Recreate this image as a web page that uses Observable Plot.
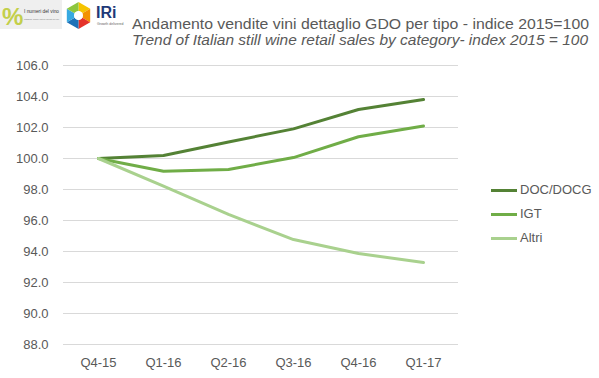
<!DOCTYPE html>
<html>
<head>
<meta charset="utf-8">
<script src="https://cdn.jsdelivr.net/npm/d3@7"></script>
<script src="https://cdn.jsdelivr.net/npm/@observablehq/plot@0.6"></script>
<style>
  body { margin: 0; background: #fff; }
  #wrap { position: relative; width: 599px; height: 378px; overflow: hidden; font-family: "Liberation Sans", Arial, sans-serif; }
  #chart { position: absolute; left: 0; top: 0; }
  .overlay { position: absolute; left: 0; top: 0; }
  .leg { position: absolute; left: 491px; width: 26px; height: 3px; }
  .legt { position: absolute; left: 520px; font-size: 13px; color: #595959; line-height: 14px; }
</style>
</head>
<body>
<div id="wrap">
  <div id="chart"></div>
  <svg class="overlay" width="599" height="56" id="header"></svg>
  <div id="legend"></div>
</div>
<script>
const quarters = ["Q4-15", "Q1-16", "Q2-16", "Q3-16", "Q4-16", "Q1-17"];
const docDocg = [100.0, 100.19, 101.07, 101.91, 103.16, 103.8];
const igt = [100.0, 99.18, 99.29, 100.06, 101.4, 102.1];
const altri = [100.0, 98.21, 96.39, 94.77, 93.87, 93.29];
const seriesNames = ["DOC/DOCG", "IGT", "Altri"];
const seriesColors = ["#548235", "#70AD47", "#A9D18E"];
const yTicks = [88, 90, 92, 94, 96, 98, 100, 102, 104, 106];
const title = "Andamento vendite vini dettaglio GDO per tipo - indice 2015=100";
const subtitle = "Trend of Italian still wine retail sales by category- index 2015 = 100";

const values = [docDocg, igt, altri];
const data = [];
seriesNames.forEach((s, i) => quarters.forEach((q, j) => data.push({s, q, v: values[i][j]})));

const chart = Plot.plot({
  width: 599,
  height: 378,
  marginLeft: 63,
  marginRight: 141,
  marginTop: 65,
  marginBottom: 34,
  style: {fontFamily: "'Liberation Sans', Arial, sans-serif", fontSize: "13px", color: "#595959", background: "transparent"},
  x: {type: "point", domain: quarters, padding: 0.5, label: null},
  y: {domain: [88, 106], label: null},
  color: {domain: seriesNames, range: seriesColors},
  marks: [
    Plot.gridY(yTicks, {stroke: "#d9d9d9", strokeOpacity: 1, strokeWidth: 1}),
    Plot.axisY(yTicks, {tickSize: 0, tickPadding: 15, tickFormat: d3.format(".1f"), label: null, fill: "#595959", fontSize: 13}),
    Plot.axisX(quarters, {tickSize: 0, tickPadding: 13, label: null, fill: "#595959", fontSize: 13}),
    Plot.line(data, {x: "q", y: "v", z: "s", stroke: "s", strokeWidth: 3, strokeLinejoin: "round", strokeLinecap: "round"})
  ]
});
document.getElementById("chart").appendChild(chart);

// Legend
const legend = document.getElementById("legend");
const legY = [190, 214, 238];
seriesNames.forEach((s, i) => {
  const l = document.createElement("div");
  l.className = "leg";
  l.style.top = (legY[i] - 1.5) + "px";
  l.style.background = seriesColors[i];
  legend.appendChild(l);
  const t = document.createElement("div");
  t.className = "legt";
  t.style.top = (legY[i] - 7) + "px";
  t.textContent = s;
  legend.appendChild(t);
});

// Header: logos + titles
const svg = d3.select("#header");
// "I numeri del vino" logo
svg.append("rect").attr("x", 0).attr("y", 0).attr("width", 62).attr("height", 29).attr("fill", "#efefef");
svg.append("text").attr("x", 2).attr("y", 25).attr("font-size", 24).attr("font-family", "'Liberation Sans', Arial")
  .attr("fill", "#c3cf4a").attr("font-weight", "bold").text("%");
svg.append("text").attr("x", 24).attr("y", 13).attr("font-size", 5.6).attr("fill", "#333")
  .attr("font-family", "'Liberation Sans Narrow', 'Liberation Sans', Arial").attr("textLength", 35).attr("lengthAdjust", "spacingAndGlyphs").text("I numeri del vino");
svg.append("text").attr("x", 24).attr("y", 20).attr("font-size", 2.5).attr("fill", "#777")
  .attr("textLength", 35).attr("lengthAdjust", "spacingAndGlyphs").text("Statistiche, analisi e dati del mercato del vino");
// hexagon logo
const hx = 78.5, hy = 15.5, hr = 13.5, ir = 4.5;
const hexCols = ["#f6c400", "#f39200", "#e5332a", "#1d71b8", "#36a9e1", "#8dc63f"];
for (let k = 0; k < 6; k++) {
  const a0 = (-90 + 60 * k) * Math.PI / 180, a1 = (-90 + 60 * (k + 1)) * Math.PI / 180;
  const p = [[hx + ir * Math.cos(a0), hy + ir * Math.sin(a0)], [hx + hr * Math.cos(a0), hy + hr * Math.sin(a0)],
             [hx + hr * Math.cos(a1), hy + hr * Math.sin(a1)], [hx + ir * Math.cos(a1), hy + ir * Math.sin(a1)]];
  svg.append("polygon").attr("points", p.map(d => d.join(",")).join(" ")).attr("fill", hexCols[k]);
}
svg.append("circle").attr("cx", hx).attr("cy", hy).attr("r", ir).attr("fill", "#fff");
// IRi
svg.append("text").attr("x", 96).attr("y", 18).attr("font-size", 16).attr("font-weight", "bold")
  .attr("fill", "#1e3a78").attr("font-family", "'Liberation Sans', Arial").text("IRi");
svg.append("text").attr("x", 97).attr("y", 25).attr("font-size", 3.5).attr("fill", "#666").text("Growth delivered");
// Titles
svg.append("text").attr("x", 132).attr("y", 28.5).attr("font-size", 14).attr("fill", "#595959")
  .attr("font-family", "'Liberation Sans', Arial").attr("textLength", 457).attr("lengthAdjust", "spacingAndGlyphs").text(title);
svg.append("text").attr("x", 132).attr("y", 44.5).attr("font-size", 14).attr("fill", "#595959").attr("font-style", "italic")
  .attr("font-family", "'Liberation Sans', Arial").attr("textLength", 456).attr("lengthAdjust", "spacingAndGlyphs").text(subtitle);
</script>
</body>
</html>
